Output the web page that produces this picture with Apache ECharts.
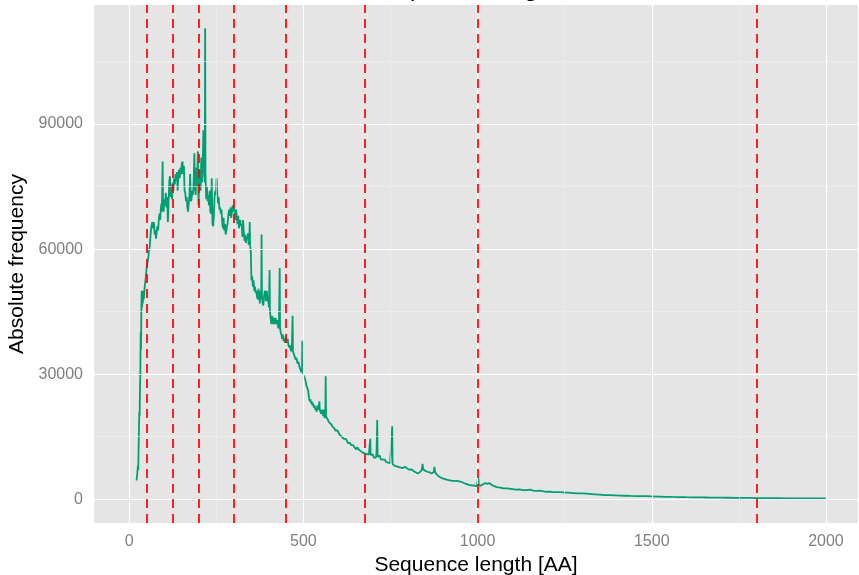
<!DOCTYPE html>
<html>
<head>
<meta charset="utf-8">
<script src="https://cdn.jsdelivr.net/npm/echarts@6/dist/echarts.min.js"></script>
<style>
  html, body { margin: 0; padding: 0; background: #ffffff; }
  #chart { width: 859px; height: 575px; }
</style>
</head>
<body>
<div id="chart"></div>
<script>
// ---- data ----
const lengths = [21,23,25,26,27,28,29,30,31,32,33,34,35,36,37,38,39,40,42,44,46,48,50,52,55,57,59,61,63,65,67,69,71,73,75,77,79,81,83,85,87,89,91,93,94,95,96,97,99,101,103,105,107,109,111,113,115,117,119,121,123,125,127,129,131,133,135,137,139,141,143,145,147,149,151,153,155,157,159,161,163,165,167,169,171,173,175,177,179,181,183,185,187,189,191,193,195,197,199,201,203,205,207,209,211,213,215,217,218,219,221,223,225,227,229,231,233,235,237,239,241,243,245,247,249,251,253,255,257,259,261,263,265,267,269,271,273,275,277,279,281,283,285,287,289,291,293,295,297,299,301,303,305,307,309,311,313,315,317,319,321,323,325,327,329,331,333,335,337,339,341,343,345,346,347,349,351,353,355,357,359,361,363,365,367,369,371,373,375,377,379,380,381,383,385,387,389,391,393,395,397,399,401,403,404,406,408,410,412,414,416,418,420,422,424,426,428,430,432,433,435,437,439,441,443,445,447,449,451,453,455,457,459,461,463,465,467,469,470,472,474,476,478,480,482,484,486,488,490,492,494,496,497,498,500,502,504,506,508,510,512,514,516,518,520,522,524,526,528,530,532,534,536,538,540,542,544,546,547,549,551,553,555,557,559,561,563,564,565,567,569,571,573,575,577,580,583,586,589,592,595,598,601,604,607,610,613,616,619,622,625,628,631,634,637,640,643,646,649,652,655,658,661,664,667,670,673,676,679,682,685,688,691,692,693,696,699,702,705,708,710,712,713,716,719,722,725,728,731,734,737,740,743,746,749,752,754,755,756,759,762,765,768,771,774,777,780,783,786,789,792,795,798,801,804,807,810,813,816,819,822,825,828,831,834,837,840,842,844,847,850,853,856,859,862,865,868,871,874,876,878,881,884,887,890,893,896,899,902,905,908,911,914,917,920,923,926,929,932,935,938,941,944,947,950,953,956,958,961,964,967,970,973,976,979,982,985,988,991,994,997,1000,1002,1004,1007,1010,1013,1016,1019,1022,1025,1028,1031,1034,1037,1040,1043,1046,1050,1055,1060,1065,1070,1075,1080,1085,1090,1095,1100,1110,1120,1130,1140,1150,1160,1170,1180,1190,1200,1210,1220,1230,1240,1250,1260,1275,1290,1305,1320,1335,1350,1365,1380,1395,1410,1425,1440,1455,1470,1485,1500,1520,1540,1560,1580,1600,1620,1640,1660,1680,1700,1720,1740,1760,1780,1800,1830,1860,1890,1920,1950,1980,2000];
const counts = [4500,6000,8000,7000,12000,16500,21000,20000,27000,30000,40000,36000,46000,50000,46000,50000,47000,48500,48000,50500,52000,53500,55500,56500,58000,60000,60500,63000,65000,66000,66500,65000,66500,63500,64500,62500,64000,65500,64500,67000,68500,67000,70000,71000,69000,76000,81000,72000,69000,72000,70500,73500,70000,72500,66500,71000,76000,77500,72500,75500,72000,76000,74000,77000,75500,78000,76500,78500,74000,77500,79000,77000,79500,78000,80500,81000,78000,80000,74000,73500,71500,72500,70000,69000,71000,73000,78000,71500,72000,74000,73000,76000,83000,74500,73000,79500,75000,83500,70500,76000,79000,74000,82000,76000,80000,88500,79000,76000,113000,78000,72000,75000,71500,73000,70500,74000,69000,68500,77000,66000,65500,68000,72500,74000,73000,77000,73000,71000,72500,69500,70000,68500,69500,66500,65000,67500,64500,66000,63500,63800,65500,66500,68500,69500,68000,70000,67500,69000,70500,69000,70000,68500,67000,69500,67500,66000,68000,65000,66500,67000,65500,66000,63000,67000,64000,62000,63500,61500,63000,62500,63800,61000,62500,66500,61000,59500,52500,53500,51000,52500,50000,51000,49500,50000,48500,48000,50500,48500,47000,50000,48000,63500,49000,47000,46500,48500,50000,49500,47500,50000,47500,48500,46000,55000,45000,43500,42000,44000,43000,42000,43500,42000,43500,42500,42000,43000,41000,42500,55500,41000,40000,39500,38500,39500,38000,38500,37500,39000,38500,37500,38500,37000,36500,37000,36000,35500,36500,44000,35500,35000,34500,34000,33500,34000,33000,32500,33000,32000,31500,31000,30500,31500,38000,30500,30000,29500,29000,28500,27500,27000,26500,26000,24500,23500,24000,23000,23500,22500,23000,22000,22500,21500,22000,21000,22500,21500,22000,23500,21500,21000,20500,21500,20500,20000,21500,19500,20500,29500,20000,19500,19500,19000,18500,18500,18500,18000,17500,17500,17000,16500,16500,16500,16000,15500,15500,15000,15000,14500,14500,14500,14000,13500,13500,13500,13000,13000,13000,12500,12500,12000,12500,12000,11800,11600,11400,11200,11200,11000,11000,10800,10500,10800,11000,14500,10600,10500,10800,10000,10200,10000,11000,19000,10200,10000,10500,9600,9800,9500,9200,9500,9000,8700,8800,8600,8700,8500,9000,17500,8500,8300,8000,8100,7900,8000,7700,7800,7600,7700,7500,7600,7800,7500,7400,7200,7100,7000,7200,6900,6800,6700,6500,6400,6200,6300,6500,6800,7000,8500,7200,6900,6800,6700,6600,6300,6500,6400,6200,6300,6500,7800,6600,6100,5800,5600,5500,5300,5200,5000,5000,4900,4800,4700,4700,4600,4600,4500,4500,4400,4500,4400,4300,4400,4200,4300,4100,4200,4600,4000,3900,3800,3700,3600,3500,3400,3400,3300,3300,3200,3300,3200,3100,3300,5300,3300,3200,3300,3400,3600,3700,3900,3800,3700,3800,3900,3700,3500,3300,3200,3000,2900,2800,2800,2700,2600,2600,2600,2500,2500,2400,2300,2400,2200,2200,2300,2100,2000,2100,1900,1800,1800,1700,1700,1700,1600,1600,1500,1400,1400,1300,1200,1100,1000,1000,950,900,850,800,780,760,740,700,650,600,560,540,500,480,460,430,410,390,370,350,330,320,300,280,260,240,230,220,210,200];
const cutoffLengths = [50, 125, 200, 300, 450, 675, 1000, 1800];
const xTickValues = [0, 500, 1000, 1500, 2000];
const xMinorValues = [250, 750, 1250, 1750];
const yTickValues = [0, 30000, 60000, 90000];
const yMinorValues = [15000, 45000, 75000, 105000];

const titleText = 'Sequence length distribution';
const xTitle = 'Sequence length [AA]';
const yTitle = 'Absolute frequency';

// ---- chart ----
const FONT = '"Liberation Sans", Arial, sans-serif';
const points = lengths.map((l, i) => [l, counts[i]]);
const plain = v => String(v);

const gridLines = [];
xTickValues.forEach(v => gridLines.push({ xAxis: v, lineStyle: { color: '#ffffff', width: 1.2, type: 'solid' } }));
xMinorValues.forEach(v => gridLines.push({ xAxis: v, lineStyle: { color: '#f2f2f2', width: 0.6, type: 'solid' } }));
yTickValues.forEach(v => gridLines.push({ yAxis: v, lineStyle: { color: '#ffffff', width: 1.2, type: 'solid' } }));
yMinorValues.forEach(v => gridLines.push({ yAxis: v, lineStyle: { color: '#f2f2f2', width: 0.6, type: 'solid' } }));

const chart = echarts.init(document.getElementById('chart'), null, { renderer: 'canvas' });
chart.setOption({
  animation: false,
  backgroundColor: '#ffffff',
  title: {
    text: titleText,
    left: 366,
    top: -28,
    textStyle: { fontFamily: FONT, fontSize: 25, fontWeight: 'normal', color: '#000000' }
  },
  grid: {
    left: 94, right: 1, top: 5, bottom: 52,
    containLabel: false,
    outerBoundsMode: 'none',
    show: true, backgroundColor: '#e5e5e5', borderWidth: 0
  },
  xAxis: {
    type: 'value',
    min: -101, max: 2092,
    name: xTitle,
    nameLocation: 'middle',
    nameGap: 31,
    nameTextStyle: { fontFamily: FONT, fontSize: 21, color: '#000000' },
    axisLine: { show: false },
    axisTick: { show: true, length: 4, lineStyle: { color: '#7f7f7f', width: 1.1 }, customValues: xTickValues },
    axisLabel: { fontFamily: FONT, fontSize: 16, color: '#7f7f7f', margin: 11, formatter: plain, customValues: xTickValues },
    splitLine: { show: false },
    minorSplitLine: { show: false }
  },
  yAxis: {
    type: 'value',
    min: -5690, max: 118560,
    name: yTitle,
    nameLocation: 'middle',
    nameGap: 64,
    nameRotate: 90,
    nameTextStyle: { fontFamily: FONT, fontSize: 21, color: '#000000' },
    axisLine: { show: false },
    axisTick: { show: true, length: 4, lineStyle: { color: '#7f7f7f', width: 1.1 }, customValues: yTickValues },
    axisLabel: { fontFamily: FONT, fontSize: 16, color: '#7f7f7f', margin: 11, formatter: plain, customValues: yTickValues },
    splitLine: { show: false }
  },
  series: [
    {
      name: 'grid',
      type: 'line',
      data: [],
      z: 1,
      silent: true,
      markLine: {
        silent: true,
        symbol: ['none', 'none'],
        label: { show: false },
        emphasis: { disabled: true },
        animation: false,
        data: gridLines
      }
    },
    {
      name: 'frequency',
      type: 'line',
      data: points,
      z: 2,
      showSymbol: false,
      symbol: 'none',
      silent: true,
      lineStyle: { color: '#009e73', width: 1.8 },
      itemStyle: { color: '#009e73' }
    },
    {
      name: 'cutoffs',
      type: 'line',
      data: [],
      z: 3,
      silent: true,
      markLine: {
        silent: true,
        symbol: ['none', 'none'],
        label: { show: false },
        emphasis: { disabled: true },
        animation: false,
        lineStyle: { color: '#ff0000', width: 1.7, type: [9, 6] },
        data: cutoffLengths.map(v => ({ xAxis: v }))
      }
    }
  ]
});
</script>
</body>
</html>
